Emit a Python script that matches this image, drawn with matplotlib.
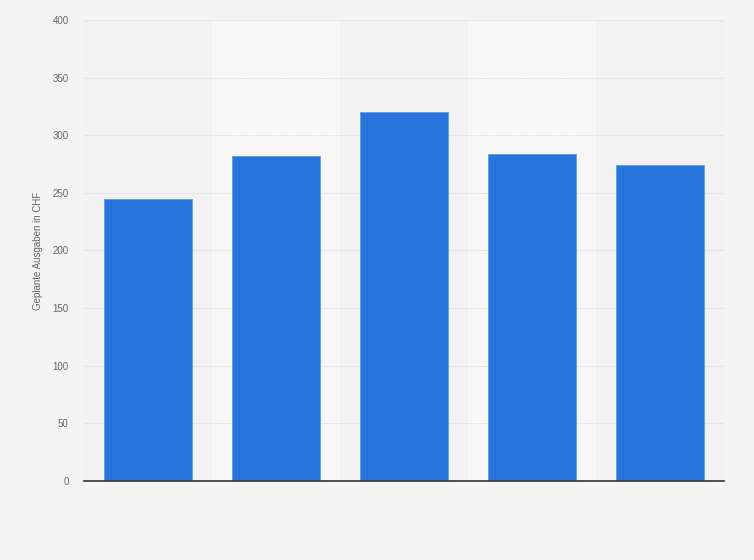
import matplotlib
matplotlib.use("Agg")
import matplotlib.pyplot as plt

plt.rcParams["font.family"] = ["Liberation Sans", "DejaVu Sans"]

categories = ["", "", "", "", ""]
values = [245, 282, 320, 284, 274]
yticks = [0, 50, 100, 150, 200, 250, 300, 350, 400]
ylabel = "Geplante Ausgaben in CHF"

fig = plt.figure(figsize=(7.54, 5.60), dpi=100, facecolor="#f4f4f4")
ax = fig.add_axes([84/754, 1 - 481/560, 640/754, 461/560])
ax.set_facecolor("#f2f2f2")

n = len(values)
x = list(range(n))
for i in range(n):
    if i % 2 == 1:
        ax.axvspan(i - 0.5, i + 0.5, color="#f8f8f8", zorder=0, lw=0)

ax.bar(x, values, width=88/128, color="#2775db", edgecolor="#5f9be6", linewidth=0.6, zorder=3)

ax.set_xlim(-0.5, n - 0.5)
ax.set_ylim(0, 400)
ax.set_yticks(yticks)
ax.set_yticklabels([str(t) for t in yticks], fontsize=7, color="#666666")
ax.set_xticks(x)
ax.set_xticklabels(categories)
ax.tick_params(axis="both", length=0, pad=11)
ax.yaxis.grid(True, linestyle=(0, (1, 1)), color="#d8d8d8", linewidth=0.8, zorder=1)
ax.set_axisbelow(True)
for s in ["top", "right", "left"]:
    ax.spines[s].set_visible(False)
ax.spines["bottom"].set_color("#333333")
ax.spines["bottom"].set_linewidth(1.2)
ax.spines["bottom"].set_zorder(4)

ax.set_ylabel(ylabel, fontsize=7, color="#666666", labelpad=7)

fig.savefig("out.png", dpi=100, facecolor=fig.get_facecolor())
